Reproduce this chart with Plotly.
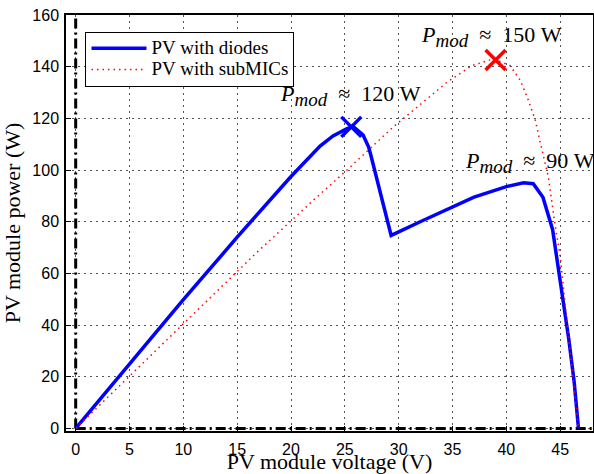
import plotly.graph_objects as go

# PV with diodes (blue)
diode_v = [0, 10, 15, 17.5, 20, 22.7, 23.9, 25.2, 25.8, 26.7, 27.2, 27.4, 29.3, 32, 34.5, 37, 40, 41.6, 42.5, 43.4, 44.3, 45.0, 45.8, 46.3, 46.7]
diode_p = [0, 49.8, 74, 86, 97.5, 109.3, 113.2, 116, 116.8, 113.5, 109, 106, 74.7, 80, 84.6, 89.5, 93.6, 95.1, 94.7, 89.5, 76.9, 57.6, 34.5, 18, 0]

# PV with subMICs (red dotted)
sub_v = [0, 10, 16.8, 22.1, 25.2, 29.5, 34.5, 36.8, 38.8, 40.35, 41.3, 42.05, 42.7, 43.1, 43.9, 44.5, 45.0, 45.8, 46.7]
sub_p = [0, 40.3, 68, 88.4, 100, 116.7, 134, 140.4, 143, 140.4, 134.7, 127, 119.2, 111.5, 97.4, 79.5, 66.6, 34.5, 0]

# maximum power points
mpp_diode = ([25.6], [116.7])
mpp_sub = ([39.0], [142.6])

# reference axes lines
vref_x, vref_y = [0, 0], [0, 160]
href_x, href_y = [0, 48], [0, 0]

x_ticks = [0, 5, 10, 15, 20, 25, 30, 35, 40, 45]
y_ticks = [0, 20, 40, 60, 80, 100, 120, 140, 160]

serif = "Liberation Serif"
sans = "Liberation Sans"

def big(s):
    return "<span style='font-size:19px'>" + s + "</span>"

fig = go.Figure()
dd = "10px,4px,2px,4px"
fig.add_trace(go.Scatter(x=vref_x, y=vref_y, mode="lines", showlegend=False,
                         line=dict(color="black", width=3, dash=dd), hoverinfo="skip"))
fig.add_trace(go.Scatter(x=href_x, y=href_y, mode="lines", showlegend=False,
                         line=dict(color="black", width=3, dash=dd), hoverinfo="skip"))
fig.add_trace(go.Scatter(x=diode_v, y=diode_p, mode="lines", name=big("PV with diodes"),
                         line=dict(color="#0000ff", width=3.5)))
fig.add_trace(go.Scatter(x=sub_v, y=sub_p, mode="lines", name=big("PV with subMICs"),
                         line=dict(color="#ff0000", width=1.5, dash="1.5px,4px")))
fig.add_trace(go.Scatter(x=mpp_diode[0], y=mpp_diode[1], mode="markers", showlegend=False,
                         marker=dict(symbol="x-thin", size=20, line=dict(color="#0000ff", width=3.5))))
fig.add_trace(go.Scatter(x=mpp_sub[0], y=mpp_sub[1], mode="markers", showlegend=False,
                         marker=dict(symbol="x-thin", size=20, line=dict(color="#ff0000", width=3.5))))

NB = "\u00a0"
def pmod(val):
    return ("<i>P</i><sub><span style='font-size:19px'><i>mod</i></span></sub>"
            + NB + NB + "≈" + NB + NB + val + NB + "W")

ann_font = dict(family=serif, size=22, color="black")
fig.add_annotation(x=25.5, y=128.9, text=pmod("120"), showarrow=False, font=ann_font)
fig.add_annotation(x=38.6, y=151.6, text=pmod("150"), showarrow=False, font=ann_font)
fig.add_annotation(x=36.0, y=103, text=pmod("90"), showarrow=False, font=ann_font,
                   xanchor="left")

axis_common = dict(showline=True, linecolor="black", linewidth=1.5, mirror=True,
                   ticks="inside", ticklen=5, tickcolor="black", tickwidth=1,
                   showgrid=True, gridcolor="#555555", gridwidth=1, griddash="2px,4px",
                   zeroline=False, tickfont=dict(family=sans, size=16, color="black"))

fig.update_xaxes(range=[-0.9, 48.05], tickvals=x_ticks, ticklabelstandoff=3,
                 title=dict(text="PV module voltage (V)", font=dict(family=serif, size=22, color="black"), standoff=3),
                 **axis_common)
fig.update_yaxes(range=[-1, 160], tickvals=y_ticks, ticklabelstandoff=2,
                 title=dict(text="PV module power (W)", font=dict(family=serif, size=22, color="black"), standoff=8),
                 **axis_common)

fig.update_layout(
    width=594, height=474,
    margin=dict(l=66, r=1, t=15, b=43, autoexpand=False),
    plot_bgcolor="white", paper_bgcolor="white",
    legend=dict(x=0.037, y=0.96, xanchor="left", yanchor="top",
                bgcolor="white", bordercolor="black", borderwidth=1,
                font=dict(family=serif, size=14, color="black"),
                tracegroupgap=0, itemwidth=55),
)

fig.write_html("out.html")
